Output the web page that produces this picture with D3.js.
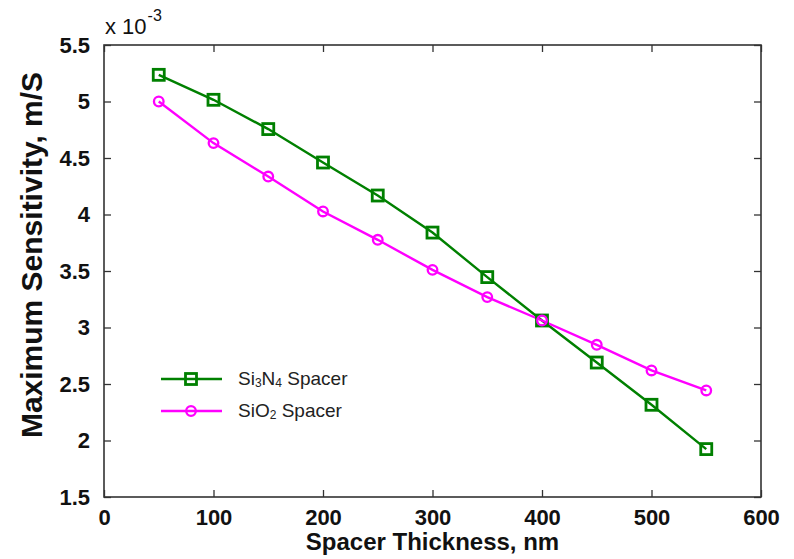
<!DOCTYPE html>
<html lang="en">
<head>
<meta charset="UTF-8">
<title>Maximum Sensitivity vs Spacer Thickness</title>
<script src="https://d3js.org/d3.v7.min.js"></script>
<style>
  body { margin: 0; background: #fff; }
  svg { display: block; font-family: "Liberation Sans", Arial, sans-serif; }
</style>
</head>
<body>
<div id="chart"></div>
<script>
  // data (sensitivity in units of 1e-3 m/S)
  const thickness = [50, 100, 150, 200, 250, 300, 350, 400, 450, 500, 550];
  const si3n4 = [5.236, 5.015, 4.756, 4.46, 4.168, 3.84, 3.446, 3.062, 2.69, 2.316, 1.924];
  const sio2 = [5.0, 4.632, 4.336, 4.027, 3.776, 3.51, 3.269, 3.062, 2.847, 2.62, 2.443];
  const xTicks = [0, 100, 200, 300, 400, 500, 600];
  const yTicks = [1.5, 2, 2.5, 3, 3.5, 4, 4.5, 5, 5.5];

  const W = 794, H = 559;
  const margin = { top: 45, right: 33, bottom: 62, left: 104 };
  const width = W - margin.left - margin.right;
  const height = H - margin.top - margin.bottom;

  const svg = d3.select("#chart").append("svg")
    .attr("width", W).attr("height", H);

  const g = svg.append("g")
    .attr("transform", `translate(${margin.left},${margin.top})`);

  const x = d3.scaleLinear().domain([0, 600]).range([0, width]);
  const y = d3.scaleLinear().domain([1.5, 5.5]).range([height, 0]);

  const frameColor = "#333";

  // axes with inward ticks
  function styleAxis(sel, showLabels) {
    sel.select(".domain").remove();
    sel.selectAll(".tick line").attr("stroke", frameColor).attr("stroke-width", 1.3);
    if (!showLabels) sel.selectAll(".tick text").remove();
    else sel.selectAll(".tick text")
      .attr("fill", "#111")
      .style("font-size", "22px")
      .style("font-weight", "bold");
  }

  g.append("g").attr("transform", `translate(0,${height})`)
    .call(d3.axisBottom(x).tickValues(xTicks).tickSize(-7).tickPadding(12).tickFormat(d3.format("d")))
    .call(s => styleAxis(s, true));
  g.append("g")
    .call(d3.axisTop(x).tickValues(xTicks).tickSize(-7))
    .call(s => styleAxis(s, false));
  g.append("g")
    .call(d3.axisLeft(y).tickValues(yTicks).tickSize(-7).tickPadding(14).tickFormat(d => d3.format("")(d)))
    .call(s => styleAxis(s, true));
  g.append("g").attr("transform", `translate(${width},0)`)
    .call(d3.axisRight(y).tickValues(yTicks).tickSize(-7))
    .call(s => styleAxis(s, false));

  // frame
  g.append("rect")
    .attr("width", width).attr("height", height)
    .attr("fill", "none").attr("stroke", frameColor).attr("stroke-width", 1.6);

  // exponent label
  const expo = svg.append("text")
    .attr("x", 105).attr("y", 34)
    .attr("fill", "#111").style("font-size", "22px");
  expo.append("tspan").text("x 10");
  expo.append("tspan").attr("dx", 1).attr("dy", -13).style("font-size", "16px").text("-3");

  // axis titles
  svg.append("text")
    .attr("x", margin.left + x(300)).attr("y", 550)
    .attr("text-anchor", "middle")
    .style("font-size", "24px").style("font-weight", "bold").attr("fill", "#111")
    .text("Spacer Thickness, nm");

  svg.append("text")
    .attr("transform", "translate(42,255) rotate(-90)")
    .attr("text-anchor", "middle")
    .style("font-size", "30px").style("font-weight", "bold").attr("fill", "#111")
    .text("Maximum Sensitivity, m/S");

  const green = "#008000", magenta = "#ff00ff";
  const line = d3.line().x(d => x(d[0])).y(d => y(d[1]));

  const dataN = thickness.map((t, i) => [t, si3n4[i]]);
  const dataO = thickness.map((t, i) => [t, sio2[i]]);

  g.append("path").datum(dataN)
    .attr("fill", "none").attr("stroke", green).attr("stroke-width", 2.4).attr("d", line);
  g.append("path").datum(dataO)
    .attr("fill", "none").attr("stroke", magenta).attr("stroke-width", 2.4).attr("d", line);

  g.selectAll(".sq").data(dataN).join("rect")
    .attr("x", d => x(d[0]) - 5.5).attr("y", d => y(d[1]) - 5.5)
    .attr("width", 11).attr("height", 11)
    .attr("fill", "none").attr("stroke", green).attr("stroke-width", 2.8);

  g.selectAll(".ci").data(dataO).join("circle")
    .attr("cx", d => x(d[0])).attr("cy", d => y(d[1])).attr("r", 4.8)
    .attr("fill", "none").attr("stroke", magenta).attr("stroke-width", 2.3);

  // legend
  const legend = svg.append("g");
  const legItems = [
    { color: green, marker: "square", y: 379, parts: [["Si", 0], ["3", 1], ["N", 0], ["4", 1], [" Spacer", 0]] },
    { color: magenta, marker: "circle", y: 411, parts: [["SiO", 0], ["2", 1], [" Spacer", 0]] }
  ];
  legItems.forEach(it => {
    legend.append("line")
      .attr("x1", 161).attr("x2", 222).attr("y1", it.y).attr("y2", it.y)
      .attr("stroke", it.color).attr("stroke-width", 2.4);
    if (it.marker === "square") {
      legend.append("rect")
        .attr("x", 191 - 5.5).attr("y", it.y - 5.5).attr("width", 11).attr("height", 11)
        .attr("fill", "none").attr("stroke", it.color).attr("stroke-width", 2.8);
    } else {
      legend.append("circle")
        .attr("cx", 191).attr("cy", it.y).attr("r", 4.8)
        .attr("fill", "none").attr("stroke", it.color).attr("stroke-width", 2.3);
    }
    const t = legend.append("text")
      .attr("x", 238).attr("y", it.y + 6)
      .attr("fill", "#222").style("font-size", "19px");
    let prevSub = 0;
    it.parts.forEach(([s, sub]) => {
      const dy = sub === prevSub ? 0 : (sub ? 2 : -2);
      t.append("tspan").attr("dy", dy).style("font-size", sub ? "12px" : "19px").text(s);
      prevSub = sub;
    });
  });
</script>
</body>
</html>
